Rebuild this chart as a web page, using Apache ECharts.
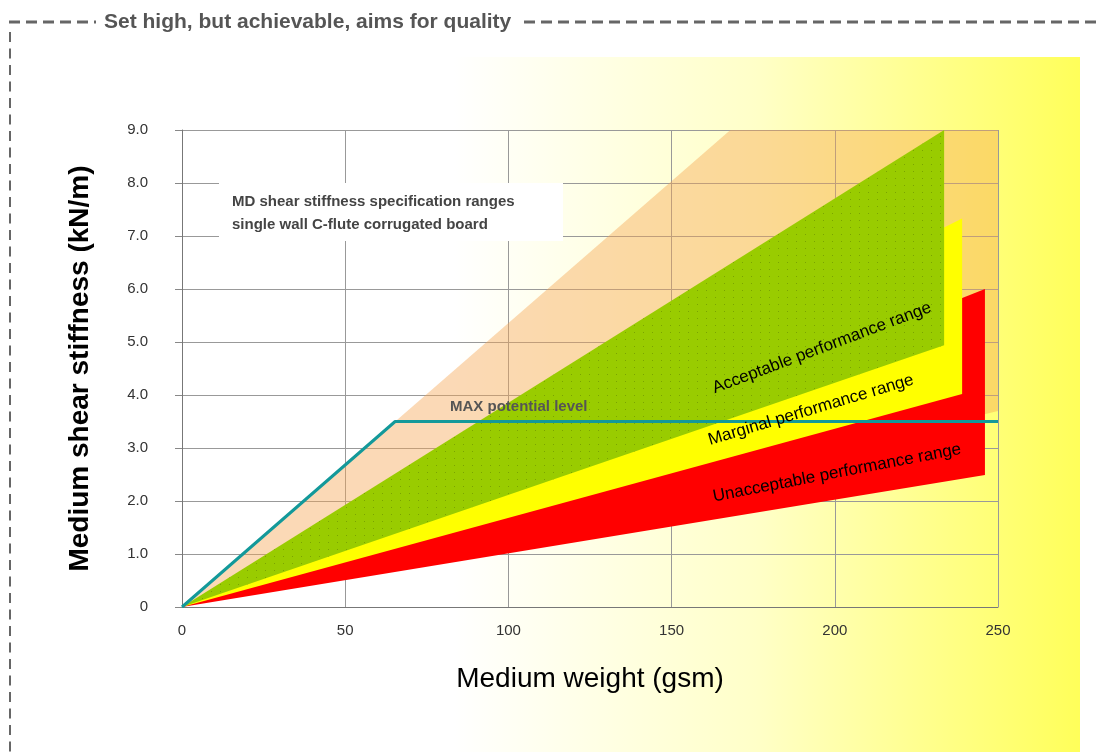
<!DOCTYPE html>
<html><head><meta charset="utf-8">
<script src="https://cdn.jsdelivr.net/npm/echarts@6/dist/echarts.min.js"></script>
<style>html,body{margin:0;padding:0;background:#fff}#c{width:1099px;height:752px}</style>
</head><body><div id="c"></div>
<script>
// ---- data ----
const yTickLabels = ['0','1.0','2.0','3.0','4.0','5.0','6.0','7.0','8.0','9.0'];
const potentialBand = [[0,0],[168,9],[250,9],[250,3.7]];
const unacceptableBand = [[0,0],[246,2.49],[246,6.0]];
const marginalBand = [[0,0],[239,4.02],[239,7.33]];
const acceptableBand = [[0,0],[233.5,4.94],[233.5,9.0]];
const maxLevel = [[0,0],[65.3,3.5],[250,3.5]];
const bandLabels = ['Acceptable performance range','Marginal performance range','Unacceptable performance range'];
const titleText = 'Set high, but achievable, aims for quality';
const noteLines = ['MD shear stiffness specification ranges','single wall C-flute corrugated board'];
const maxLabel = 'MAX potential level';

// green dotted pattern
const pc = document.createElement('canvas');
pc.width = 9; pc.height = 7;
const g = pc.getContext('2d');
g.fillStyle = '#99cc00'; g.fillRect(0,0,9,7);
g.fillStyle = '#7aa400'; g.fillRect(4,3,1,1);

function polygonSeries(name, pts, fill, z) {
  return {
    type: 'custom', name: name, coordinateSystem: 'cartesian2d', data: [[0,0]], clip: true, z: z, silent: true,
    renderItem: function (params, api) {
      return { type: 'polygon', shape: { points: pts.map(function (p) { return api.coord(p); }) },
               style: { fill: fill, stroke: null } };
    }
  };
}

const chart = echarts.init(document.getElementById('c'), null, { renderer: 'canvas' });
const font = "'Liberation Sans', Arial, sans-serif";
chart.setOption({
  backgroundColor: 'transparent',
  animation: false,
  grid: { left: 182, right: 101, top: 130, bottom: 145 },
  xAxis: {
    type: 'value', min: 0, max: 250, interval: 50,
    name: 'Medium weight (gsm)', nameLocation: 'middle', nameGap: 58,
    nameTextStyle: { fontSize: 28, color: '#000', fontFamily: font },
    axisLine: { show: true, lineStyle: { color: '#777', width: 1 } },
    axisTick: { show: false },
    axisLabel: { margin: 16, fontSize: 15, color: '#333', fontFamily: font },
    splitLine: { show: true, lineStyle: { color: '#999', width: 1 } }
  },
  yAxis: {
    type: 'value', min: 0, max: 9, interval: 1,
    name: 'Medium shear stiffness (kN/m)', nameLocation: 'middle', nameGap: 88,
    nameTextStyle: { fontSize: 28, fontWeight: 'bold', color: '#000', fontFamily: font, padding: [0, 0, 0, 0] },
    axisLine: { show: true, lineStyle: { color: '#777', width: 1 } },
    axisTick: { show: true, length: 7, lineStyle: { color: '#888' } },
    axisLabel: { margin: 34, fontSize: 15, color: '#333', fontFamily: font,
      formatter: function (v) { return yTickLabels[Math.round(v)]; } },
    splitLine: { show: true, lineStyle: { color: '#999', width: 1 } }
  },
  series: [
    polygonSeries('potential', potentialBand, 'rgba(245,165,80,0.42)', 2),
    polygonSeries('unacceptable', unacceptableBand, '#ff0000', 3),
    polygonSeries('marginal', marginalBand, '#ffff00', 4),
    polygonSeries('acceptable', acceptableBand, { image: pc, repeat: 'repeat' }, 5),
    { type: 'line', name: 'MAX', data: maxLevel, symbol: 'none', z: 10, silent: true,
      lineStyle: { color: '#13999a', width: 3 } }
  ],
  graphic: [
    { type: 'rect', z: -10, shape: { x: 0, y: 57, width: 1080, height: 695 },
      style: { fill: new echarts.graphic.LinearGradient(0, 0, 1, 0, [
        { offset: 0, color: '#ffffff' }, { offset: 0.42, color: '#ffffff' },
        { offset: 0.7, color: '#ffffc8' }, { offset: 0.85, color: '#ffff90' },
        { offset: 1, color: '#ffff5a' }]) } },
    { type: 'line', z: 100, shape: { x1: 9, y1: 22, x2: 96, y2: 22 }, style: { stroke: '#666', lineWidth: 3, lineDash: [11, 6] } },
    { type: 'line', z: 100, shape: { x1: 524, y1: 22, x2: 1099, y2: 22 }, style: { stroke: '#666', lineWidth: 3, lineDash: [11, 6] } },
    { type: 'line', z: 100, shape: { x1: 10, y1: 32, x2: 10, y2: 752 }, style: { stroke: '#666', lineWidth: 2, lineDash: [10, 6.5] } },
    { type: 'text', z: 100, x: 104, y: 22, style: { text: titleText, fill: '#555', font: 'bold 21px ' + font, verticalAlign: 'middle', align: 'left' } },
    { type: 'rect', z: 100, shape: { x: 219, y: 183, width: 344, height: 58 }, style: { fill: '#ffffff' } },
    { type: 'text', z: 101, x: 232, y: 202, style: { text: noteLines[0], fill: '#444', font: 'bold 15px ' + font, verticalAlign: 'middle' } },
    { type: 'text', z: 101, x: 232, y: 225, style: { text: noteLines[1], fill: '#444', font: 'bold 15px ' + font, verticalAlign: 'middle' } },
    { type: 'text', z: 101, x: 450, y: 407, style: { text: maxLabel, fill: '#555', font: 'bold 15px ' + font, verticalAlign: 'middle' } },
    { type: 'text', z: 101, x: 822, y: 348, rotation: 20.6 * Math.PI / 180, style: { text: bandLabels[0], fill: '#000', font: '17px ' + font, align: 'center', verticalAlign: 'middle' } },
    { type: 'text', z: 101, x: 811, y: 410, rotation: 16.6 * Math.PI / 180, style: { text: bandLabels[1], fill: '#000', font: '17px ' + font, align: 'center', verticalAlign: 'middle' } },
    { type: 'text', z: 101, x: 837, y: 473, rotation: 10.9 * Math.PI / 180, style: { text: bandLabels[2], fill: '#000', font: '17px ' + font, align: 'center', verticalAlign: 'middle' } }
  ]
});
</script></body></html>
